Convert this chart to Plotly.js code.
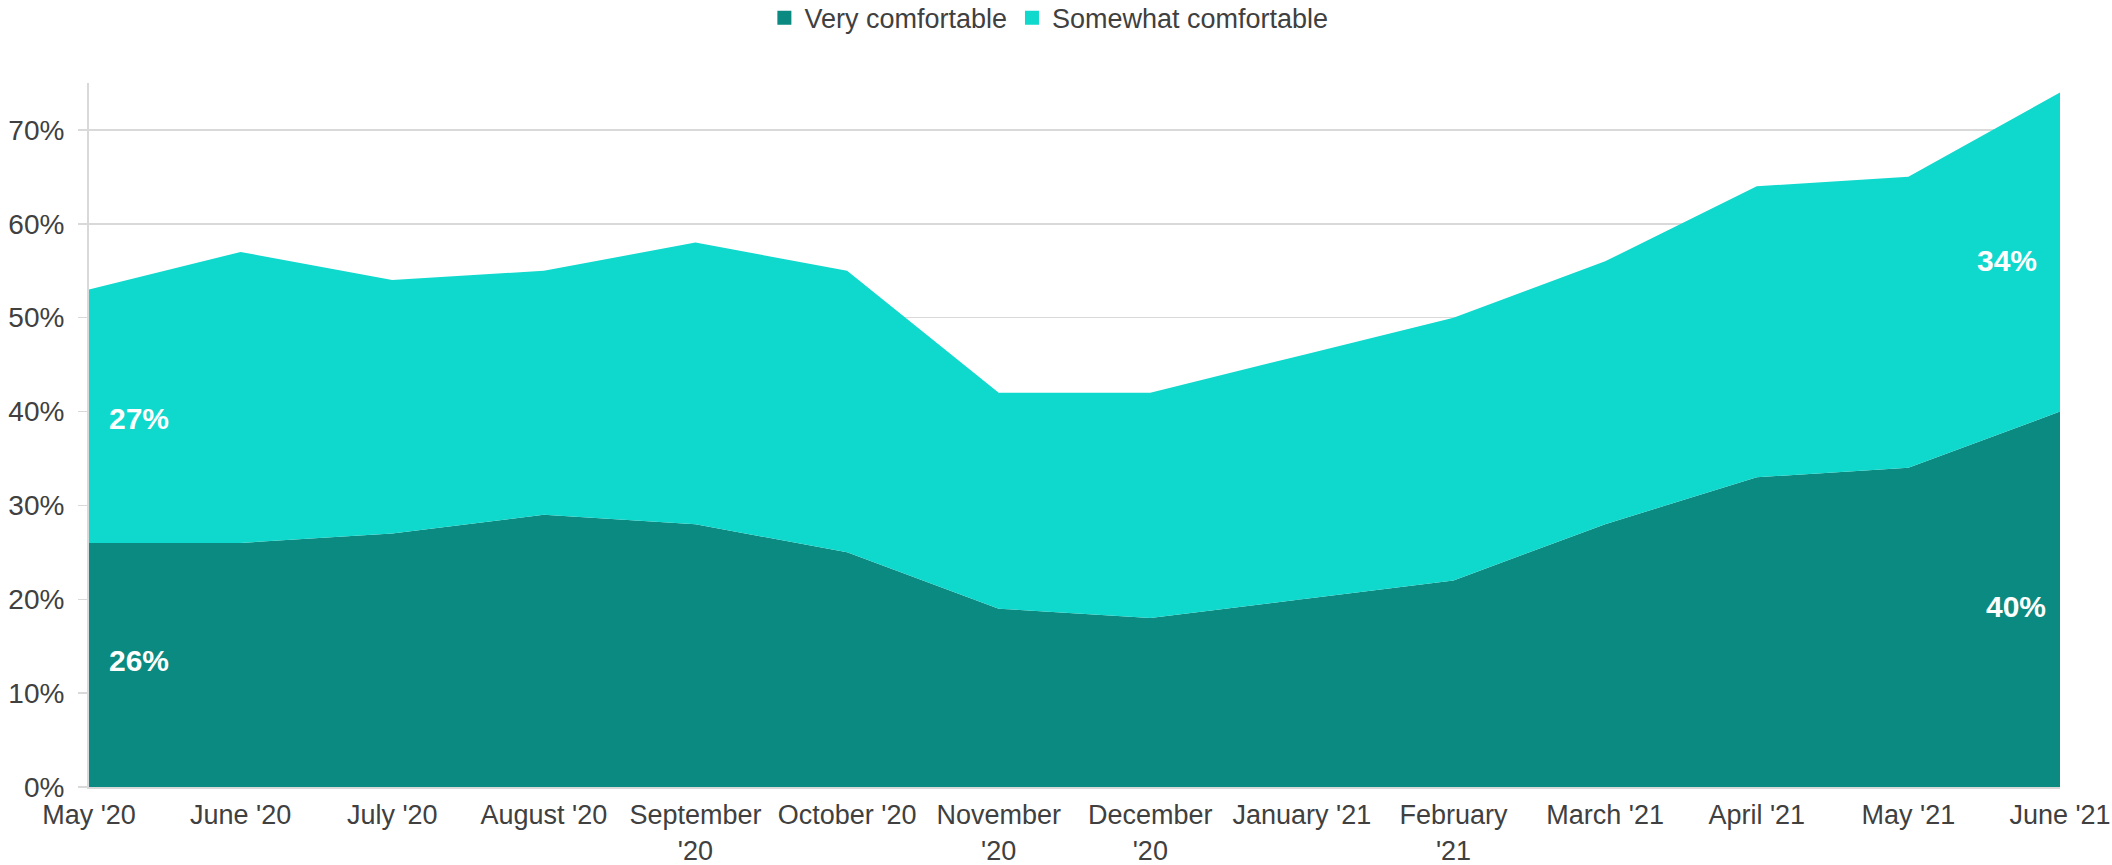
<!DOCTYPE html>
<html>
<head>
<meta charset="utf-8">
<script src="https://cdn.plot.ly/plotly-3.0.1.min.js"></script>
<style>
  html, body { margin: 0; padding: 0; background: #ffffff; }
  #chart { width: 2112px; height: 865px; }
</style>
</head>
<body>
<div id="chart"></div>
<script>
// ---- Data ----
const months = ["May '20", "June '20", "July '20", "August '20", "September<br>'20", "October '20",
                "November<br>'20", "December<br>'20", "January '21", "February<br>'21", "March '21",
                "April '21", "May '21", "June '21"];
const veryComfortable     = [26, 26, 27, 29, 28, 25, 19, 18, 20, 22, 28, 33, 34, 40];
const somewhatComfortable = [27, 31, 27, 26, 30, 30, 23, 24, 26, 28, 28, 31, 31, 34];
const seriesNames = ["Very comfortable", "Somewhat comfortable"];
const seriesColors = ["#0a8a80", "#0fd8cd"];

const FONT = '"Liberation Sans", Arial, Helvetica, sans-serif';
const TEXT = '#404040';

const traces = [
  {
    x: months, y: veryComfortable, name: seriesNames[0], type: 'scatter', mode: 'none',
    stackgroup: 'one', fill: 'tonexty', fillcolor: seriesColors[0],
    line: {width: 0}, showlegend: false, hoverinfo: 'x+y+name'
  },
  {
    x: months, y: somewhatComfortable, name: seriesNames[1], type: 'scatter', mode: 'none',
    stackgroup: 'one', fill: 'tonexty', fillcolor: seriesColors[1],
    line: {width: 0}, showlegend: false, hoverinfo: 'x+y+name'
  },
  // legend-only entries with square markers
  { x: [null], y: [null], name: seriesNames[0], type: 'scatter', mode: 'markers',
    marker: {symbol: 'square', size: 14, color: seriesColors[0]}, hoverinfo: 'skip' },
  { x: [null], y: [null], name: seriesNames[1], type: 'scatter', mode: 'markers',
    marker: {symbol: 'square', size: 14, color: seriesColors[1]}, hoverinfo: 'skip' }
];

const last = months.length - 1;
const labelFont = {family: FONT, size: 30, color: '#ffffff', weight: 'bold'};
const annotations = [
  {x: 0.33, y: 39.3, text: '<b>' + somewhatComfortable[0] + '%</b>'},
  {x: 0.33, y: 13.5, text: '<b>' + veryComfortable[0] + '%</b>'},
  {x: last - 0.35, y: 56.1, text: '<b>' + somewhatComfortable[last] + '%</b>'},
  {x: last - 0.29, y: 19.2, text: '<b>' + veryComfortable[last] + '%</b>'}
].map(a => Object.assign({xref: 'x', yref: 'y', showarrow: false, font: labelFont,
                          xanchor: 'center', yanchor: 'middle'}, a));

const layout = {
  width: 2112, height: 865,
  paper_bgcolor: '#ffffff', plot_bgcolor: '#ffffff',
  margin: {l: 89, r: 52, t: 83, b: 78},
  font: {family: FONT, size: 27, color: TEXT},
  showlegend: true,
  legend: {
    orientation: 'h', x: 0.487, xanchor: 'center', xref: 'paper',
    yref: 'container', y: 0.979, yanchor: 'middle',
    traceorder: 'normal', font: {family: FONT, size: 27, color: TEXT},
    itemwidth: 30, itemclick: false, itemdoubleclick: false,
    tracegroupgap: 0
  },
  xaxis: {
    type: 'category', range: [0, last],
    showgrid: false, zeroline: false,
    showline: true, linecolor: '#d9d9d9', linewidth: 2,
    ticks: '', tickangle: 0, ticklabelstandoff: 3,
    tickfont: {family: FONT, size: 27, color: TEXT},
    fixedrange: true
  },
  yaxis: {
    range: [0, 75], dtick: 10, ticksuffix: '%',
    showgrid: true, gridcolor: '#d9d9d9', gridwidth: 1.5,
    zeroline: false,
    showline: true, linecolor: '#d9d9d9', linewidth: 2,
    ticks: 'outside', ticklen: 9, tickcolor: '#d9d9d9', tickwidth: 1.5,
    ticklabelstandoff: 8,
    tickfont: {family: FONT, size: 28, color: TEXT},
    fixedrange: true
  },
  annotations: annotations
};

Plotly.newPlot('chart', traces, layout, {displayModeBar: false, staticPlot: true});
</script>
</body>
</html>
